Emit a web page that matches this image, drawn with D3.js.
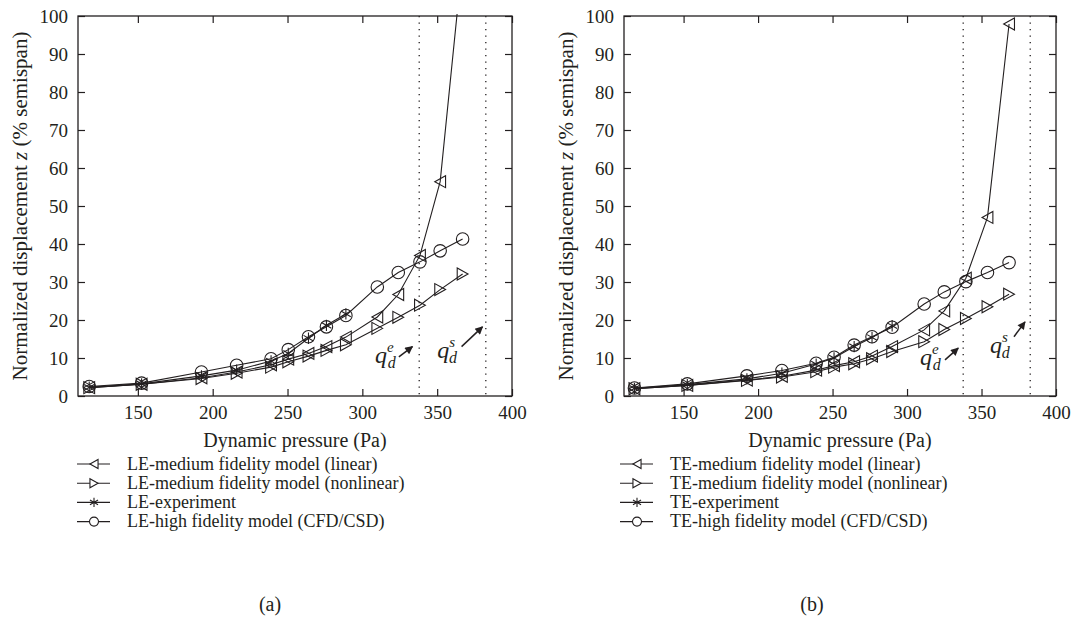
<!DOCTYPE html>
<html>
<head>
<meta charset="utf-8">
<script src="https://cdn.jsdelivr.net/npm/d3@7/dist/d3.min.js"></script>
<style>
  body { margin: 0; background: #fff; }
  svg text { font-family: "Liberation Serif", "Times New Roman", serif; fill: #231f20; }
</style>
</head>
<body>
<div id="chart-container"></div>
<script>
// dynamic pressure (Pa) sample points
const qLE = [117.5, 152.5, 192.5, 216, 239, 250.5, 264, 276, 289, 310, 324, 338.5, 352, 367];
const qTE = [117, 152.5, 192.5, 216, 239, 251, 264.5, 276.5, 290, 311.5, 325, 339.5, 354, 368.5];

// normalized displacement (% semispan)
const leLinear     = [2.2, 3.1, 4.8, 6.3, 8.2, 9.7, 11.2, 13.0, 15.5, 20.8, 26.7, 37.0, 56.4, 115];
const leNonlinear  = [2.2, 3.1, 4.6, 6.0, 7.6, 9.0, 10.5, 12.0, 13.5, 17.8, 20.7, 23.9, 28.0, 32.1];
const leExperiment = [2.3, 3.2, 5.3, 6.8, 9.2, 11.2, 15.2, 18.6, 21.6];
const leCFD        = [2.5, 3.4, 6.3, 8.1, 9.8, 12.2, 15.6, 18.2, 21.2, 28.7, 32.5, 35.3, 38.2, 41.3];

const teLinear     = [1.9, 2.8, 4.2, 5.2, 6.8, 8.0, 9.0, 10.5, 13.0, 17.4, 22.4, 31.0, 47.0, 97.9];
const teNonlinear  = [1.9, 2.8, 4.1, 5.0, 6.4, 7.6, 8.5, 9.8, 11.7, 14.3, 17.5, 20.4, 23.5, 26.8];
const teExperiment = [2.0, 3.0, 4.5, 6.0, 8.4, 10.0, 13.0, 15.4, 18.5];
const teCFD        = [2.1, 3.2, 5.3, 6.7, 8.6, 10.2, 13.4, 15.6, 18.1, 24.2, 27.4, 30.1, 32.5, 35.1];

// divergence pressures: experiment (e) and static (s)
const qdLE = [338, 382.5];
const qdTE = [337.7, 382.7];

const xTicks = [150, 200, 250, 300, 350, 400];
const yTicks = [0, 10, 20, 30, 40, 50, 60, 70, 80, 90, 100];

const leNames = ["LE-medium fidelity model (linear)", "LE-medium fidelity model (nonlinear)", "LE-experiment", "LE-high fidelity model (CFD/CSD)"];
const teNames = ["TE-medium fidelity model (linear)", "TE-medium fidelity model (nonlinear)", "TE-experiment", "TE-high fidelity model (CFD/CSD)"];
const markerKinds = ["left", "right", "star", "circle"];

const W = 1079, H = 618;
const INK = "#231f20";

const svg = d3.select("#chart-container")
  .append("svg")
  .attr("width", W)
  .attr("height", H);

const defs = svg.append("defs");
defs.append("marker")
  .attr("id", "arrowhead")
  .attr("viewBox", "0 0 10 10")
  .attr("refX", 9).attr("refY", 5)
  .attr("markerWidth", 10).attr("markerHeight", 8)
  .attr("markerUnits", "userSpaceOnUse")
  .attr("orient", "auto")
  .append("path")
  .attr("d", "M0,0 L10,5 L0,10 Z")
  .attr("fill", INK);

function markerPath(kind, s) {
  if (kind === "left") return `M${-s * 0.45},0 L${s * 0.45},${-s * 0.5} L${s * 0.45},${s * 0.5} Z`;
  if (kind === "right") return `M${s * 0.45},0 L${-s * 0.45},${-s * 0.5} L${-s * 0.45},${s * 0.5} Z`;
  if (kind === "star") return d3.symbol(d3.symbolAsterisk, s * s * 0.75)();
  return d3.symbol(d3.symbolCircle, Math.PI * (s / 2) * (s / 2))();
}

function drawPanel(p) {
  const g = svg.append("g");
  const x = d3.scaleLinear().domain([110, 400]).range([p.left, p.right]);
  const y = d3.scaleLinear().domain([0, 100]).range([p.bottom, p.top]);

  g.append("clipPath").attr("id", p.id + "-clip")
    .append("rect")
    .attr("x", p.left).attr("y", p.top - 2)
    .attr("width", p.right - p.left).attr("height", p.bottom - p.top + 2);

  // ticks pointing inward on all four sides
  g.append("g").attr("transform", `translate(0,${p.bottom})`)
    .call(d3.axisBottom(x).tickValues(xTicks).tickSizeInner(-7).tickSizeOuter(0).tickPadding(10));
  g.append("g").attr("transform", `translate(0,${p.top})`)
    .call(d3.axisTop(x).tickValues(xTicks).tickSizeInner(-7).tickSizeOuter(0).tickFormat(""));
  g.append("g").attr("transform", `translate(${p.left},0)`)
    .call(d3.axisLeft(y).tickValues(yTicks).tickSizeInner(-7).tickSizeOuter(0).tickPadding(10));
  g.append("g").attr("transform", `translate(${p.right},0)`)
    .call(d3.axisRight(y).tickValues(yTicks).tickSizeInner(-7).tickSizeOuter(0).tickFormat(""));

  g.selectAll(".domain").remove();
  g.selectAll(".tick line").attr("stroke", INK).attr("stroke-width", 1.2);
  g.selectAll(".tick text").attr("font-size", 19).attr("fill", INK)
    .style("font-family", '"Liberation Serif", serif');

  g.append("rect")
    .attr("x", p.left).attr("y", p.top)
    .attr("width", p.right - p.left).attr("height", p.bottom - p.top)
    .attr("fill", "none").attr("stroke", INK).attr("stroke-width", 1.3);

  // dotted divergence lines
  g.selectAll(".qd").data(p.qd).enter()
    .append("line")
    .attr("x1", d => x(d)).attr("x2", d => x(d))
    .attr("y1", p.top).attr("y2", p.bottom)
    .attr("stroke", INK).attr("stroke-width", 1.3)
    .attr("stroke-dasharray", "1.3,5.2");

  const series = p.series.map((vals, i) => ({
    kind: markerKinds[i],
    pts: vals.map((v, j) => [p.q[j], v])
  }));

  const plot = g.append("g").attr("clip-path", `url(#${p.id}-clip)`);
  const line = d3.line().x(d => x(d[0])).y(d => y(d[1]));

  series.forEach(s => {
    plot.append("path")
      .attr("d", line(s.pts))
      .attr("fill", "none").attr("stroke", INK).attr("stroke-width", 1.1);
    plot.selectAll(null).data(s.pts).enter()
      .append("path")
      .attr("transform", d => `translate(${x(d[0])},${y(d[1])})`)
      .attr("d", markerPath(s.kind, s.kind === "circle" ? 12.5 : (s.kind === "star" ? 11 : 12)))
      .attr("fill", "none").attr("stroke", INK).attr("stroke-width", 1.1);
  });

  // q_d annotations
  p.notes.forEach(n => {
    const t = g.append("text")
      .attr("x", x(n.tx)).attr("y", y(n.ty))
      .attr("font-style", "italic").attr("font-size", 24).attr("fill", INK);
    t.append("tspan").text("q");
    t.append("tspan").attr("font-size", 15).attr("dy", -11).text(n.sup);
    t.append("tspan").attr("font-size", 16).attr("dx", -6).attr("dy", 16).text("d");
    g.append("line")
      .attr("x1", x(n.a[0])).attr("y1", y(n.a[1]))
      .attr("x2", x(n.a[2])).attr("y2", y(n.a[3]))
      .attr("stroke", INK).attr("stroke-width", 1.5)
      .attr("marker-end", "url(#arrowhead)");
  });

  // axis titles
  g.append("text")
    .attr("x", (p.left + p.right) / 2).attr("y", p.bottom + 51)
    .attr("text-anchor", "middle").attr("font-size", 20)
    .text("Dynamic pressure (Pa)");

  const yl = g.append("text")
    .attr("transform", `translate(${p.ylabelX},${(p.top + p.bottom) / 2}) rotate(-90)`)
    .attr("text-anchor", "middle").attr("font-size", 21);
  yl.append("tspan").text("Normalized displacement ");
  yl.append("tspan").attr("font-style", "italic").text("z");
  yl.append("tspan").text(" (% semispan)");

  // legend
  const lg = g.append("g");
  p.names.forEach((name, i) => {
    const cy = p.legendTop + i * 19.2;
    lg.append("line")
      .attr("x1", p.legendX).attr("x2", p.legendX + 33)
      .attr("y1", cy).attr("y2", cy)
      .attr("stroke", INK).attr("stroke-width", 1.1);
    lg.append("path")
      .attr("transform", `translate(${p.legendX + 17},${cy})`)
      .attr("d", markerPath(markerKinds[i], 9))
      .attr("fill", "#fff").attr("stroke", INK).attr("stroke-width", 1.1);
    lg.append("text")
      .attr("x", p.legendX + 50).attr("y", cy + 5.5)
      .attr("font-size", 18)
      .text(name);
  });

  g.append("text")
    .attr("x", p.captionX).attr("y", 611)
    .attr("text-anchor", "middle").attr("font-size", 20)
    .text(p.caption);
}

drawPanel({
  id: "le", left: 78, right: 512, top: 16, bottom: 396, ylabelX: 27,
  q: qLE, series: [leLinear, leNonlinear, leExperiment, leCFD], qd: qdLE,
  names: leNames, legendX: 77, legendTop: 464, captionX: 270, caption: "(a)",
  notes: [
    { tx: 308.5, ty: 8.6, sup: "e", a: [324.4, 10.3, 333.5, 13.0] },
    { tx: 350, ty: 10.0, sup: "s", a: [366.3, 13.0, 380.3, 18.2] }
  ]
});

drawPanel({
  id: "te", left: 624, right: 1056, top: 16, bottom: 396, ylabelX: 573,
  q: qTE, series: [teLinear, teNonlinear, teExperiment, teCFD], qd: qdTE,
  names: teNames, legendX: 620, legendTop: 464, captionX: 812, caption: "(b)",
  notes: [
    { tx: 308.7, ty: 8.2, sup: "e", a: [325.5, 9.5, 334.4, 12.6] },
    { tx: 355.7, ty: 11.2, sup: "s", a: [371.8, 15.6, 379.2, 19.5] }
  ]
});
</script>
</body>
</html>
